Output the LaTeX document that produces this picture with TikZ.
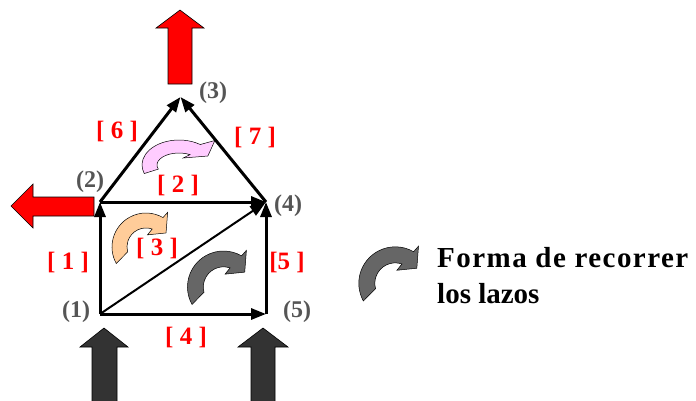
\documentclass[tikz,border=0pt]{standalone}
\usepackage{fontspec}
\setmainfont{Liberation Serif}
\newfontfamily\legendfont[LetterSpace=5]{Liberation Serif}
\usetikzlibrary{arrows.meta}
\definecolor{numgray}{HTML}{555555}
\definecolor{darkarrow}{HTML}{333333}
\definecolor{pinkloop}{HTML}{FFCCFF}
\definecolor{orangeloop}{HTML}{FFCC99}
\definecolor{grayloop}{HTML}{666666}
\begin{document}
\begin{tikzpicture}[x=1pt,y=-1pt,
  edge/.style={line width=3pt,-{Triangle[length=15pt,width=11pt]}},
  diagedge/.style={line width=2pt,-{Triangle[length=16pt,width=11pt]}},
  lbl/.style={text=red,font=\bfseries\fontsize{25}{28}\selectfont,inner sep=0pt},
  numlbl/.style={text=numgray,font=\bfseries\fontsize{24}{27}\selectfont,inner sep=0pt},
  blockarrow/.style={draw=black,line width=0.6pt,line join=miter},
  loopfill/.style={draw=black,line width=0.5pt},
  looparrow/.pic={\path[pic actions] (209:1) arc[start angle=209,end angle=60,radius=1]
     -- (58:1.2) -- (35:0.72) -- (83:0.36) -- (71:0.56)
     arc[start angle=71,end angle=195,radius=0.56] -- cycle;},
  flatloop/.pic={\path[pic actions] (200:1) arc[start angle=200,end angle=55,radius=1]
     -- (0.97,0.98) -- (0.78,0.36) -- (0.11,0.28) -- ({0.595*cos(60)},{0.48*sin(60)})
     arc[start angle=60,end angle=200,x radius=0.595,y radius=0.48] -- cycle;}
]
\useasboundingbox (0,0) rectangle (696,400);

% block arrows
\path[blockarrow,fill=red] (168,84) -- (168,28) -- (156,28) -- (180,10) -- (204,28) -- (192,28) -- (192,84) -- cycle;
\path[blockarrow,fill=red] (94,197) -- (33,197) -- (33,184) -- (11,206) -- (33,228) -- (33,216) -- (94,216) -- cycle;
\path[blockarrow,fill=darkarrow] (92,406) -- (92,347) -- (80,347) -- (104,328) -- (128,347) -- (117,347) -- (117,406) -- cycle;
\path[blockarrow,fill=darkarrow] (251,406) -- (251,347) -- (238,347) -- (263,328) -- (288,347) -- (275,347) -- (275,406) -- cycle;

% loop arrows
\pic[loopfill,fill=pinkloop,xscale=37,yscale=-25] at (179,165) {flatloop};
\pic[loopfill,fill=orangeloop,xscale=34,yscale=-34] at (146,247) {looparrow};
\pic[loopfill,fill=grayloop,xscale=36,yscale=-36] at (223.5,287) {looparrow};
\pic[loopfill,fill=grayloop,xscale=36.5,yscale=-36.5] at (395.3,283.3) {looparrow};

% network nodes
\coordinate (n1) at (100,314);
\coordinate (n2) at (100,202);
\coordinate (n3) at (180.5,97);
\coordinate (n4) at (266,202);
\coordinate (n5) at (266,314);

\draw[edge] (n1) -- (n2);
\draw[edge] (n2) -- (n4);
\draw[diagedge] (n1) -- (n4);
\draw[edge] (n1) -- (n5);
\draw[edge] (n5) -- (n4);
\draw[edge] (n2) -- (n3);
\draw[edge] (n4) -- (n3);

% node numbers
\node[numlbl] (t1) at (76,312) {(1)};
\node[numlbl] (t2) at (90,182) {(2)};
\node[numlbl] (t3) at (213,93) {(3)};
\node[numlbl] (t4) at (288,206) {(4)};
\node[numlbl] (t5) at (297,312) {(5)};

% branch labels
\node[lbl] (b6) at (117,131) {[ 6 ]};
\node[lbl] (b7) at (255,137) {[ 7 ]};
\node[lbl] (b2) at (178,185) {[ 2 ]};
\node[lbl] (b1) at (68,262) {[ 1 ]};
\node[lbl] (b3) at (157,248) {[ 3 ]};
\node[lbl] (b5) at (287,262) {[5 ]};
\node[lbl] (b4) at (186,337) {[ 4 ]};

% legend
\node[anchor=base west,inner sep=0pt,font=\legendfont\bfseries\fontsize{29}{36}\selectfont] (leg1) at (437,267) {Forma de recorrer};
\node[anchor=base west,inner sep=0pt,font=\bfseries\fontsize{29}{36}\selectfont] (leg2) at (437,303) {los lazos};
\end{tikzpicture}
\end{document}
